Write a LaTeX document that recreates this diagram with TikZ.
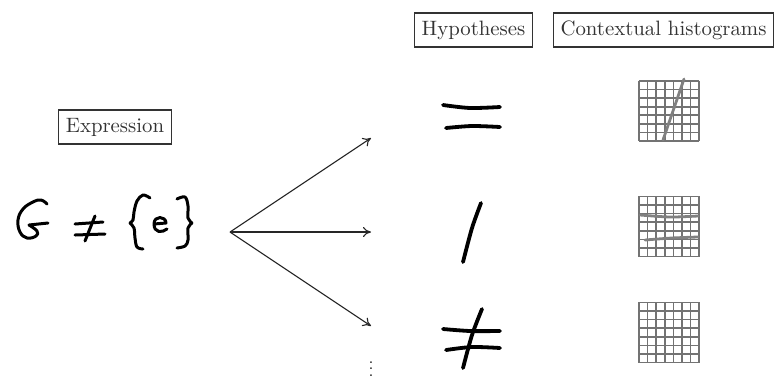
\documentclass[tikz,border=0pt]{standalone}
\usepackage{tikz}
\usetikzlibrary{arrows.meta,calc}

\begin{document}
\begin{tikzpicture}[x=0.5pt,y=-0.5pt,>={To[length=4pt,width=5pt]},
  heading/.style={draw=black!80,rectangle,line width=.6pt,minimum height=17pt,inner xsep=3.5pt,inner ysep=2pt,font=\fontsize{10.4}{12}\selectfont,text=black!80},
  hist/.style={rectangle,minimum width=29.5pt,minimum height=29.5pt,inner sep=0pt},
  gridline/.style={draw=black!55,line width=.8pt},
  trace/.style={draw=black!50,line width=1.4pt,line cap=round},
  pen/.style={line width=1.5pt,line cap=round,line join=round},
  marker/.style={line width=1.9pt,line cap=round,line join=round},
  every path/.style={line width=.55pt}]
\useasboundingbox (0,0) rectangle (774,376);
\node[heading] (expr) at (115,127) {Expression};
\node[heading] (hyp) at (473.5,30) {Hypotheses};
\node[heading] (ctx) at (663.5,30) {Contextual histograms};
% handwritten expression
\draw[pen] plot[smooth,tension=.7] coordinates {(47,204) (41,200) (33,202) (23,209) (18,220) (20,232) (27,238) (36,236) (37,231) (29,225)} -- (48,223);
\draw[pen] (75,224) -- (103,222);
\draw[pen] (75,235) -- (105,234);
\draw[pen] (95,216) -- (85,241);
\draw[pen] plot[smooth,tension=.6] coordinates {(150,198) (143,195) (137,201) (134,212) (133,220) (130,223)};
\draw[pen] plot[smooth,tension=.6] coordinates {(130,223) (134,228) (135,238) (137,247) (143,249)};
\draw[pen] (154,224) -- (166,223) .. controls (166,216) and (154,215) .. (154,224) .. controls (154,233) and (162,233) .. (167,229);
\draw[pen] plot[smooth,tension=.6] coordinates {(177,199) (185,197) (188,206) (188,218) (192,223)};
\draw[pen] plot[smooth,tension=.6] coordinates {(192,223) (188,228) (188,240) (185,246) (177,248)};
% fork
\coordinate (fork) at (230,232);
\coordinate (t1) at (371,138);
\coordinate (t2) at (371,232);
\coordinate (t3) at (371,326);
\draw[->,black!85] (fork) -- (t1);
\draw[->,black!85] (fork) -- (t2);
\draw[->,black!85] (fork) -- (t3);
\node[inner sep=0pt,scale=.8,anchor=base] (more) at (371,376) {$\vdots$};
% hypotheses
\draw[marker] plot[smooth] coordinates {(443,105) (470,108) (500,107)};
\draw[marker] plot[smooth] coordinates {(446,128) (472,126) (500,127)};
\draw[marker] plot[smooth] coordinates {(481,203) (472,228) (463,262)};
\draw[marker] plot[smooth] coordinates {(443,329) (470,331) (500,331)};
\draw[marker] plot[smooth] coordinates {(446,350) (472,347) (500,348)};
\draw[marker] plot[smooth] coordinates {(482,309) (472,335) (463,368)};
% histograms
\node[hist] (h1) at (669,111) {};
\node[hist] (h2) at (669,226.5) {};
\node[hist] (h3) at (669,332.5) {};
\foreach \h in {h1,h2,h3}{
  \foreach \i in {0,...,7}{
    \draw[gridline] ($(\h.north west)!\i/7!(\h.north east)$) -- ($(\h.south west)!\i/7!(\h.south east)$);
    \draw[gridline] ($(\h.north west)!\i/7!(\h.south west)$) -- ($(\h.north east)!\i/7!(\h.south east)$);
  }
}
\draw[trace] (684,79) -- (663,140);
\draw[trace] plot[smooth] coordinates {(640,215) (670,217) (698,216)};
\draw[trace] plot[smooth] coordinates {(645,240) (672,238) (698,237)};
\end{tikzpicture}
\end{document}
